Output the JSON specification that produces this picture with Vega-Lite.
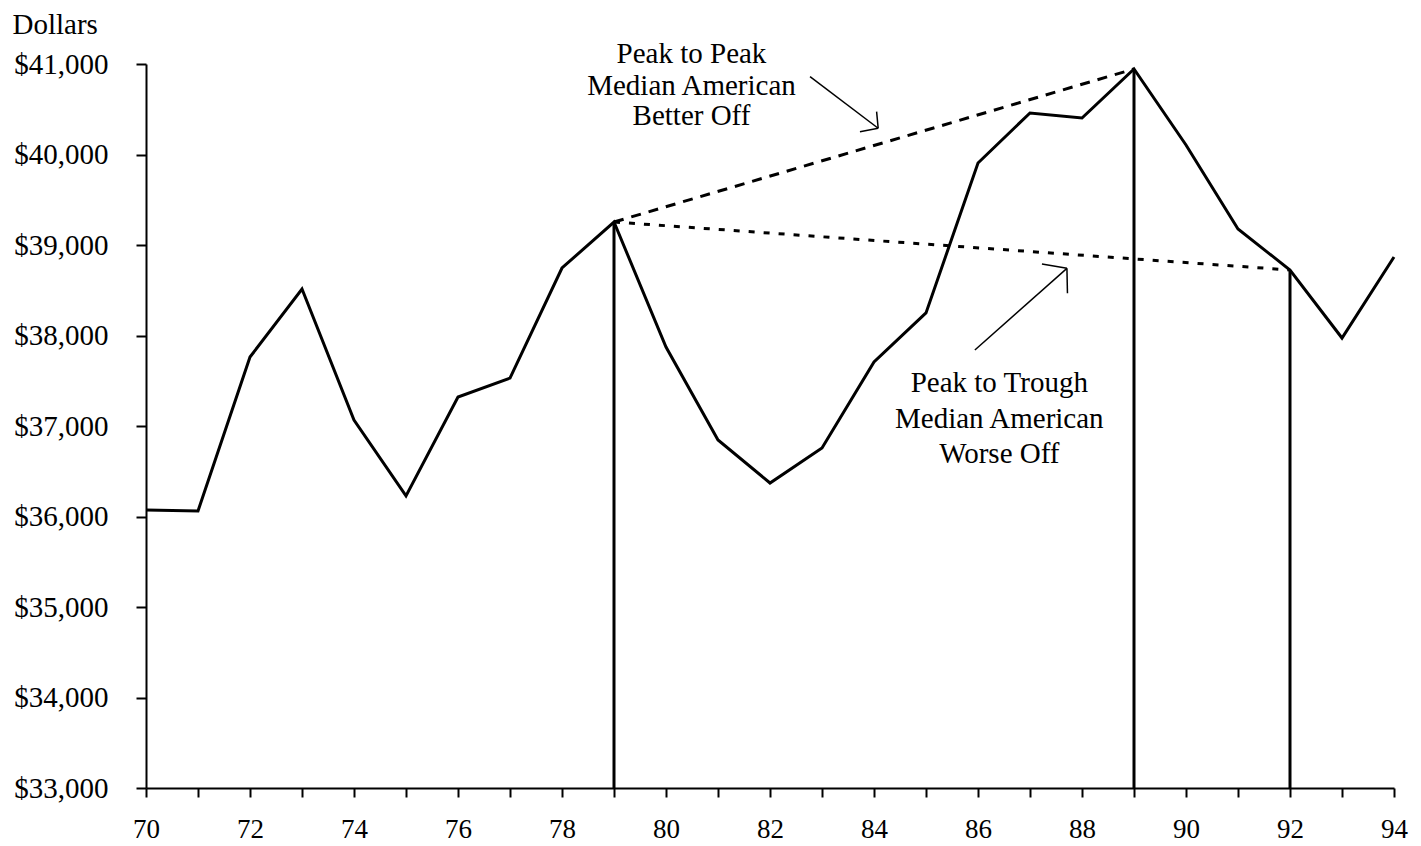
{
  "$schema": "https://vega.github.io/schema/vega-lite/v6.json",
  "width": 1248,
  "height": 724,
  "autosize": {"type": "none"},
  "padding": {"left": 146, "top": 64, "right": 27, "bottom": 58},
  "background": "white",
  "config": {"view": {"stroke": null}, "font": "Liberation Serif"},
  "datasets": {
    "income": [
      {"year": 70, "value": 36072},
      {"year": 71, "value": 36061},
      {"year": 72, "value": 37762},
      {"year": 73, "value": 38514},
      {"year": 74, "value": 37066},
      {"year": 75, "value": 36227},
      {"year": 76, "value": 37320},
      {"year": 77, "value": 37530},
      {"year": 78, "value": 38746},
      {"year": 79, "value": 39254},
      {"year": 80, "value": 37873},
      {"year": 81, "value": 36845},
      {"year": 82, "value": 36370},
      {"year": 83, "value": 36757},
      {"year": 84, "value": 37707},
      {"year": 85, "value": 38249},
      {"year": 86, "value": 39906},
      {"year": 87, "value": 40459},
      {"year": 88, "value": 40403},
      {"year": 89, "value": 40945},
      {"year": 90, "value": 40105},
      {"year": 91, "value": 39177},
      {"year": 92, "value": 38724},
      {"year": 93, "value": 37972},
      {"year": 94, "value": 38867}
    ],
    "trends": [
      {"year": 79, "value": 39254, "seg": "peak"},
      {"year": 89, "value": 40945, "seg": "peak"},
      {"year": 79, "value": 39254, "seg": "trough"},
      {"year": 92, "value": 38724, "seg": "trough"}
    ],
    "arrows": [
      {"year": 82.77, "value": 40860, "seg": "a1"},
      {"year": 84.08, "value": 40290, "seg": "a1"},
      {"year": 84.05, "value": 40473, "seg": "a1v"},
      {"year": 84.08, "value": 40290, "seg": "a1v"},
      {"year": 83.73, "value": 40252, "seg": "a1h"},
      {"year": 84.08, "value": 40290, "seg": "a1h"},
      {"year": 85.94, "value": 37840, "seg": "a2"},
      {"year": 87.71, "value": 38742, "seg": "a2"},
      {"year": 87.72, "value": 38466, "seg": "a2v"},
      {"year": 87.71, "value": 38742, "seg": "a2v"},
      {"year": 87.23, "value": 38790, "seg": "a2h"},
      {"year": 87.71, "value": 38742, "seg": "a2h"}
    ],
    "notes": [
      {"year": 80.49, "value": 41011, "label": "Peak to Peak"},
      {"year": 80.49, "value": 40657, "label": "Median American"},
      {"year": 80.49, "value": 40326, "label": "Better Off"},
      {"year": 86.41, "value": 37376, "label": "Peak to Trough"},
      {"year": 86.41, "value": 36978, "label": "Median American"},
      {"year": 86.41, "value": 36591, "label": "Worse Off"}
    ]
  },
  "layer": [
    {
      "data": {"name": "income"},
      "mark": {"type": "line", "color": "black", "strokeWidth": 3},
      "encoding": {
        "x": {
          "field": "year",
          "type": "quantitative",
          "scale": {"domain": [70, 94], "nice": false, "zero": false},
          "axis": {
            "values": [70,71,72,73,74,75,76,77,78,79,80,81,82,83,84,85,86,87,88,89,90,91,92,93,94],
            "labelExpr": "datum.value % 2 == 0 ? datum.label : ''",
            "title": null,
            "grid": false,
            "domainColor": "black",
            "domainWidth": 2,
            "tickColor": "black",
            "tickWidth": 2,
            "tickSize": 9,
            "labelFontSize": 27,
            "labelColor": "black",
            "labelFont": "Liberation Serif",
            "labelBaseline": "alphabetic",
            "labelPadding": 40,
            "labelFlush": false,
            "labelOverlap": false
          }
        },
        "y": {
          "field": "value",
          "type": "quantitative",
          "scale": {"domain": [33000, 41000], "nice": false, "zero": false},
          "axis": {
            "values": [33000,34000,35000,36000,37000,38000,39000,40000,41000],
            "format": "$,.0f",
            "title": "Dollars",
            "titleAngle": 0,
            "titleAlign": "left",
            "titleBaseline": "alphabetic",
            "titleX": -134,
            "titleY": -31,
            "titleFontSize": 29,
            "titleFontWeight": "normal",
            "titleColor": "black",
            "titleFont": "Liberation Serif",
            "labelFontSize": 29,
            "labelColor": "black",
            "labelFont": "Liberation Serif",
            "labelPadding": 28,
            "tickSize": 10,
            "tickWidth": 2,
            "tickColor": "black",
            "domainColor": "black",
            "domainWidth": 2,
            "grid": false,
            "labelFlush": false,
            "labelOverlap": false
          }
        }
      }
    },
    {
      "data": {"name": "income"},
      "transform": [{"filter": {"field": "year", "oneOf": [79, 89, 92]}}],
      "mark": {"type": "rule", "color": "black", "strokeWidth": 3},
      "encoding": {
        "x": {"field": "year", "type": "quantitative"},
        "y": {"field": "value", "type": "quantitative"},
        "y2": {"datum": 33000}
      }
    },
    {
      "data": {"name": "trends"},
      "mark": {"type": "line", "color": "black", "strokeWidth": 3},
      "encoding": {
        "x": {"field": "year", "type": "quantitative"},
        "y": {"field": "value", "type": "quantitative"},
        "strokeDash": {
          "field": "seg",
          "type": "nominal",
          "scale": {"domain": ["peak", "trough"], "range": [[10, 8], [6, 9]]},
          "legend": null
        }
      }
    },
    {
      "data": {"name": "arrows"},
      "mark": {"type": "line", "color": "black", "strokeWidth": 1.5},
      "encoding": {
        "x": {"field": "year", "type": "quantitative"},
        "y": {"field": "value", "type": "quantitative"},
        "detail": {"field": "seg", "type": "nominal"}
      }
    },
    {
      "data": {"name": "notes"},
      "mark": {"type": "text", "fontSize": 29, "font": "Liberation Serif", "align": "center", "baseline": "alphabetic", "color": "black"},
      "encoding": {
        "x": {"field": "year", "type": "quantitative"},
        "y": {"field": "value", "type": "quantitative"},
        "text": {"field": "label", "type": "nominal"}
      }
    }
  ]
}
